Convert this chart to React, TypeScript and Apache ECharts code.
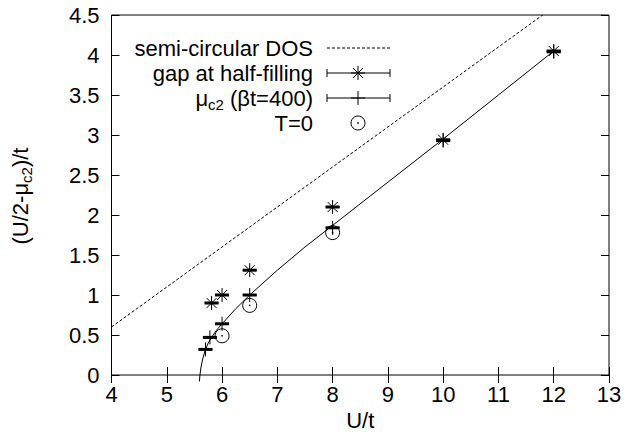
import React, { useEffect, useRef } from "react";
import * as echarts from "echarts";

// Data
const dosCurve: number[][] = [[4, 0.6], [11.8, 4.5]];
const fitCurve: number[][] = [
  [5.59, -0.08], [5.6, 0], [5.62, 0.1], [5.65, 0.2], [5.69, 0.3], [5.75, 0.4], [5.81, 0.47],
  [5.9, 0.56], [6, 0.64], [6.25, 0.83], [6.5, 1.0], [7, 1.31], [7.5, 1.6],
  [8, 1.87], [9, 2.41], [10, 2.95], [11, 3.5], [12, 4.05],
];
const gapHalfFilling: number[][] = [[5.81, 0.9], [6, 1.0], [6.5, 1.31], [8, 2.1], [10, 2.94], [12, 4.05]];
const muC2: number[][] = [[5.7, 0.32], [5.78, 0.47], [6, 0.64], [6.5, 1.0], [8, 1.84], [10, 2.93], [12, 4.04]];
const tZero: number[][] = [[6, 0.49], [6.5, 0.87], [8, 1.78]];
const legendNames = ["semi-circular DOS", "gap at half-filling", "μ", "c2", " (βt=400)", "T=0"];
const yName = ["(U/2-μ", "c2", ")/t"];
const xName = "U/t";

const FONT = "Liberation Sans, Arial, Helvetica, sans-serif";
const FS = 22;
const SUB = 15;

function measure(t: string, size: number): number {
  const c = document.createElement("canvas").getContext("2d");
  if (!c) return t.length * size * 0.5;
  c.font = `${size}px ${FONT}`;
  return c.measureText(t).width;
}

function markerRender(kind: "plus" | "star" | "circle") {
  return (params: any, api: any) => {
    const p = api.coord([api.value(0), api.value(1)]);
    const x = p[0], y = p[1];
    const st = { stroke: "#000", lineWidth: 1 };
    const ch: any[] = [];
    if (kind === "circle") {
      ch.push({ type: "circle", shape: { cx: x, cy: y, r: 7 }, style: { fill: "none", ...st } });
      ch.push({ type: "circle", shape: { cx: x, cy: y, r: 0.8 }, style: { fill: "#000" } });
    } else {
      ch.push({ type: "line", shape: { x1: x - 7, y1: y, x2: x + 7, y2: y }, style: st });
      ch.push({ type: "line", shape: { x1: x, y1: y - 7, x2: x, y2: y + 7 }, style: st });
      if (kind === "star") {
        ch.push({ type: "line", shape: { x1: x - 5, y1: y - 5, x2: x + 5, y2: y + 5 }, style: st });
        ch.push({ type: "line", shape: { x1: x - 5, y1: y + 5, x2: x + 5, y2: y - 5 }, style: st });
      }
      ch.push({ type: "rect", shape: { x: x - 7, y: y - 1.5, width: 14, height: 3 }, style: { fill: "#000" } });
    }
    return { type: "group", children: ch };
  };
}

export default function App() {
  const ref = useRef<HTMLDivElement>(null);
  useEffect(() => {
    if (!ref.current) return;
    const chart = echarts.init(ref.current, null, { renderer: "svg" });
    const axisCommon = {
      axisLine: { show: false },
      splitLine: { show: false },
      axisTick: { show: true, inside: true, length: 8, lineStyle: { color: "#000" } },
    };
    const xCommon = { type: "value", min: 4, max: 13, interval: 1, ...axisCommon };
    const yCommon = { type: "value", min: 0, max: 4.5, interval: 0.5, ...axisCommon };
    const legX = 313;
    const symL = 327, symR = 390, symC = 358;
    const rows = [48, 73, 98, 123];
    const lst = { stroke: "#000", lineWidth: 1 };
    const endTicks = (y: number) => [
      { type: "line", shape: { x1: symL, y1: y, x2: symR, y2: y }, style: lst },
      { type: "line", shape: { x1: symL, y1: y - 4, x2: symL, y2: y + 4 }, style: lst },
      { type: "line", shape: { x1: symR, y1: y - 4, x2: symR, y2: y + 4 }, style: lst },
    ];
    const txt = (t: string, x: number, y: number, size: number, align: string) => ({
      type: "text",
      x,
      y,
      style: { text: t, fontFamily: FONT, fontSize: size, fill: "#000", align, verticalAlign: "middle" },
    });
    // legend row 3: right-aligned composed text with subscript
    const wTail = measure(legendNames[4], FS);
    const wSub = measure(legendNames[3], SUB);
    const r3Tail = legX - wTail;
    const r3Sub = r3Tail - wSub;
    // y axis name: rotated group
    const w1 = measure(yName[0], FS), w2 = measure(yName[1], SUB), w3 = measure(yName[2], FS);
    const tot = w1 + w2 + w3;
    const s0 = -tot / 2;

    chart.setOption({
      animation: false,
      grid: { left: 111.5, right: 27, top: 15, bottom: 68, show: true, borderColor: "#000", borderWidth: 1, backgroundColor: "transparent" },
      xAxis: [
        {
          ...xCommon,
          position: "bottom",
          axisLabel: { color: "#000", fontFamily: FONT, fontSize: FS, margin: 8 },
          name: xName,
          nameLocation: "middle",
          nameGap: 34,
          nameTextStyle: { color: "#000", fontFamily: FONT, fontSize: FS },
        },
        { ...xCommon, position: "top", axisLabel: { show: false } },
      ],
      yAxis: [
        {
          ...yCommon,
          position: "left",
          axisLabel: { color: "#000", fontFamily: FONT, fontSize: FS, margin: 12 },
        },
        { ...yCommon, position: "right", axisLabel: { show: false } },
      ],
      graphic: [
        {
          type: "group",
          x: 20,
          y: 196,
          rotation: Math.PI / 2,
          children: [
            txt(yName[0], s0, 0, FS, "left"),
            txt(yName[1], s0 + w1, 6, SUB, "left"),
            txt(yName[2], s0 + w1 + w2, 0, FS, "left"),
          ],
        },
        txt(legendNames[0], legX, rows[0], FS, "right"),
        { type: "line", shape: { x1: symL, y1: rows[0], x2: symR, y2: rows[0] }, style: { ...lst, lineDash: [3, 2] } },
        txt(legendNames[1], legX, rows[1], FS, "right"),
        ...endTicks(rows[1]),
        { type: "line", shape: { x1: symC - 7, y1: rows[1], x2: symC + 7, y2: rows[1] }, style: lst },
        { type: "line", shape: { x1: symC, y1: rows[1] - 7, x2: symC, y2: rows[1] + 7 }, style: lst },
        { type: "line", shape: { x1: symC - 5, y1: rows[1] - 5, x2: symC + 5, y2: rows[1] + 5 }, style: lst },
        { type: "line", shape: { x1: symC - 5, y1: rows[1] + 5, x2: symC + 5, y2: rows[1] - 5 }, style: lst },
        txt(legendNames[2], r3Sub, rows[2], FS, "right"),
        txt(legendNames[3], r3Sub, rows[2] + 6, SUB, "left"),
        txt(legendNames[4], r3Tail, rows[2], FS, "left"),
        ...endTicks(rows[2]),
        { type: "line", shape: { x1: symC - 7, y1: rows[2], x2: symC + 7, y2: rows[2] }, style: lst },
        { type: "line", shape: { x1: symC, y1: rows[2] - 7, x2: symC, y2: rows[2] + 7 }, style: lst },
        txt(legendNames[5], legX, rows[3], FS, "right"),
        { type: "circle", shape: { cx: symC, cy: rows[3], r: 7 }, style: { fill: "none", ...lst } },
        { type: "circle", shape: { cx: symC, cy: rows[3], r: 0.8 }, style: { fill: "#000" } },
      ],
      series: [
        {
          type: "line",
          data: dosCurve,
          showSymbol: false,
          lineStyle: { color: "#000", width: 1, type: [3, 2] },
          clip: true,
        },
        {
          type: "line",
          data: fitCurve,
          showSymbol: false,
          smooth: false,
          lineStyle: { color: "#000", width: 1 },
          clip: false,
        },
        { type: "custom", data: gapHalfFilling, renderItem: markerRender("star"), encode: { x: 0, y: 1 }, clip: false },
        { type: "custom", data: muC2, renderItem: markerRender("plus"), encode: { x: 0, y: 1 }, clip: false },
        { type: "custom", data: tZero, renderItem: markerRender("circle"), encode: { x: 0, y: 1 }, clip: false },
      ],
    });
    return () => chart.dispose();
  }, []);
  return <div ref={ref} style={{ width: 636, height: 443, margin: -8 }} />;
}
